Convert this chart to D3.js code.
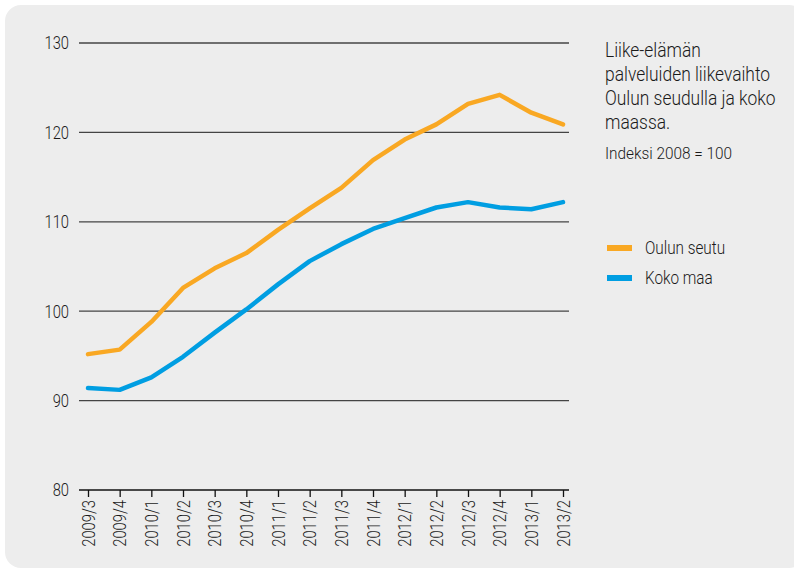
<!DOCTYPE html>
<html>
<head>
<meta charset="utf-8">
<script src="https://cdn.jsdelivr.net/npm/d3@7"></script>
<style>
  body { margin: 0; background: #fff; }
  text { font-family: Roboto, "Liberation Sans", sans-serif; font-weight: 300; fill: #1a1a1a; }
</style>
</head>
<body>
<div id="chart"></div>
<script>
// quarters on the x axis
var quarters = ["2009/3", "2009/4", "2010/1", "2010/2", "2010/3", "2010/4", "2011/1", "2011/2",
  "2011/3", "2011/4", "2012/1", "2012/2", "2012/3", "2012/4", "2013/1", "2013/2"];

var oulunSeutu = [95.2, 95.7, 98.8, 102.6, 104.8, 106.5, 109.1, 111.5,
  113.8, 116.9, 119.2, 120.9, 123.2, 124.2, 122.2, 120.9];

var kokoMaa = [91.4, 91.2, 92.6, 94.9, 97.6, 100.2, 103.0, 105.6,
  107.5, 109.2, 110.4, 111.6, 112.2, 111.6, 111.4, 112.2];

var yTicks = [80, 90, 100, 110, 120, 130];

var titleLines = ["Liike-elämän", "palveluiden liikevaihto", "Oulun seudulla ja koko", "maassa."];
var subtitle = "Indeksi 2008 = 100";

var seriesNames = ["Oulun seutu", "Koko maa"];
var seriesColors = ["#f9a823", "#009ee2"];

var width = 794, height = 573;
var squeeze = 0.82; // no condensed font installed, so narrow the glyphs by hand

var svg = d3.select("#chart")
  .append("svg")
  .attr("width", width)
  .attr("height", height);

// rounded grey panel
svg.append("rect")
  .attr("x", 5).attr("y", 5)
  .attr("width", 800).attr("height", 563)
  .attr("rx", 16)
  .attr("fill", "#ededed");

var x = d3.scalePoint().domain(quarters).range([88, 563]);
var y = d3.scaleLinear().domain([80, 130]).range([490, 43]);

// horizontal grid lines
svg.selectAll(".grid")
  .data(yTicks)
  .enter().append("line")
  .attr("class", "grid")
  .attr("x1", 79).attr("x2", 569)
  .attr("y1", function(d) { return y(d); })
  .attr("y2", function(d) { return y(d); })
  .attr("stroke", function(d) { return d == 80 ? "#111" : "#444"; })
  .attr("stroke-width", 1.3);

// y labels
svg.selectAll(".ylab")
  .data(yTicks)
  .enter().append("text")
  .attr("class", "ylab")
  .attr("transform", function(d) { return "translate(69," + y(d) + ") scale(" + squeeze + ",1)"; })
  .attr("dy", "0.35em")
  .attr("text-anchor", "end")
  .style("font-size", "18px")
  .text(function(d) { return d; });

// x axis ticks + labels
var xAxis = d3.axisBottom(x).tickSize(7).tickPadding(4);
var gx = svg.append("g")
  .attr("transform", "translate(0," + y(80) + ")")
  .call(xAxis);
gx.select(".domain").remove();
gx.selectAll(".tick line").attr("stroke", "#111").attr("stroke-width", 1.3);
gx.selectAll(".tick text")
  .attr("transform", "translate(0,10) rotate(-90) scale(" + squeeze + ",1)")
  .attr("x", 0).attr("y", 0).attr("dy", "0.35em")
  .attr("text-anchor", "end")
  .style("font-size", "18px")
  .style("font-family", "Roboto, sans-serif")
  .style("font-weight", 300)
  .attr("fill", "#1a1a1a");

// lines
var line = d3.line()
  .x(function(d, i) { return x(quarters[i]); })
  .y(function(d) { return y(d); });

[oulunSeutu, kokoMaa].forEach(function(values, i) {
  svg.append("path")
    .datum(values)
    .attr("d", line)
    .attr("fill", "none")
    .attr("stroke", seriesColors[i])
    .attr("stroke-width", 4.5)
    .attr("stroke-linejoin", "round")
    .attr("stroke-linecap", "round");
});

// title
svg.selectAll(".title")
  .data(titleLines)
  .enter().append("text")
  .attr("class", "title")
  .attr("transform", function(d, i) { return "translate(605," + (57 + i * 24) + ") scale(0.87,1)"; })
  .style("font-size", "20px")
  .text(function(d) { return d; });

svg.append("text")
  .attr("transform", "translate(605,159) scale(0.96,1)")
  .style("font-size", "16px")
  .text(subtitle);

// legend
var legend = svg.selectAll(".legend")
  .data(seriesNames)
  .enter().append("g")
  .attr("class", "legend")
  .attr("transform", function(d, i) { return "translate(607," + (248 + i * 30) + ")"; });

legend.append("rect")
  .attr("x", 0).attr("y", -3)
  .attr("width", 25).attr("height", 6)
  .attr("fill", function(d, i) { return seriesColors[i]; });

legend.append("text")
  .attr("transform", "translate(38,0) scale(0.85,1)")
  .attr("dy", "0.35em")
  .style("font-size", "18px")
  .text(function(d) { return d; });
</script>
</body>
</html>
